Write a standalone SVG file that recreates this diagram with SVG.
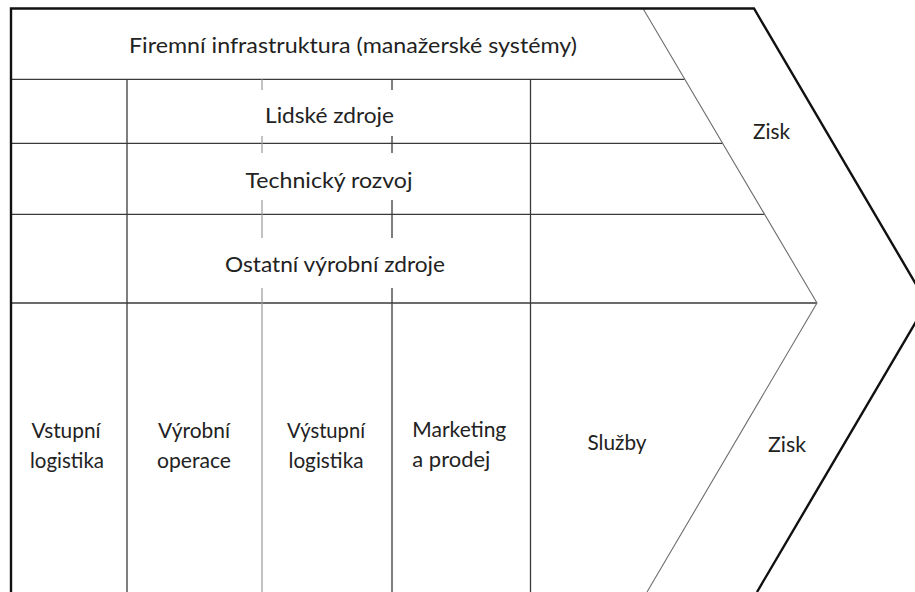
<svg xmlns="http://www.w3.org/2000/svg" width="915" height="592" viewBox="0 0 915 592">
  <style>
    .bg { fill: #ffffff; }
    .outer { fill: none; stroke: #111111; stroke-width: 2.4; stroke-linejoin: miter; }
    .grid { stroke: #3a3a3a; stroke-width: 1.3; fill: none; }
    .grid-light { stroke: #9a9a9a; stroke-width: 1.2; fill: none; }
    .tip { stroke: #6e6e6e; stroke-width: 1.1; fill: none; }
    text { font-family: Lato, "Open Sans", "Liberation Sans", sans-serif; font-size: 22px; fill: #222222; }
    .c { text-anchor: middle; }
  </style>

  <rect class="bg" x="0" y="0" width="915" height="592"/>

  <!-- grid lines of the value chain -->
  <g id="grid">
    <!-- row separators, ending at the inner chevron -->
    <line class="grid" x1="11" y1="79.3" x2="684.7" y2="79.3"/>
    <line class="grid" x1="11" y1="143.3" x2="722.5" y2="143.3"/>
    <line class="grid" x1="11" y1="214.3" x2="764.4" y2="214.3"/>
    <line class="grid" x1="11" y1="303" x2="817" y2="303"/>

    <!-- column separators -->
    <line class="grid" x1="127" y1="79.3" x2="127" y2="592"/>
    <line class="grid" x1="530.5" y1="79.3" x2="530.5" y2="592"/>

    <!-- broken column lines behind the support activity labels -->
    <path class="grid-light" d="M262 79.3V90 M262 136V153 M262 200V238 M262 288V592"/>
    <path class="grid" d="M392 79.3V90 M392 136V153 M392 200V238 M392 288V592"/>

    <!-- inner chevron (margin boundary) -->
    <polyline class="tip" points="643,8.5 817,303 647,592"/>

    <!-- outer frame with arrow head -->
    <polyline class="outer" points="11,592 11,8.5 754,8.5 927,303 757,592"/>
  </g>

  <!-- support activities -->
  <g id="infrastruktura">
    <text class="c" x="353" y="53" textLength="448" lengthAdjust="spacingAndGlyphs">Firemní infrastruktura (manažerské systémy)</text>
  </g>
  <g id="lidske-zdroje">
    <text class="c" x="329.5" y="122.7" textLength="129" lengthAdjust="spacingAndGlyphs">Lidské zdroje</text>
  </g>
  <g id="technicky-rozvoj">
    <text class="c" x="329" y="187.5" textLength="167" lengthAdjust="spacingAndGlyphs">Technický rozvoj</text>
  </g>
  <g id="ostatni-zdroje">
    <text class="c" x="335" y="271.7" textLength="220" lengthAdjust="spacingAndGlyphs">Ostatní výrobní zdroje</text>
  </g>

  <!-- primary activities -->
  <g id="vstupni-logistika">
    <text class="c" x="66" y="438" textLength="69" lengthAdjust="spacingAndGlyphs">Vstupní</text>
    <text class="c" x="67" y="468" textLength="74" lengthAdjust="spacingAndGlyphs">logistika</text>
  </g>
  <g id="vyrobni-operace">
    <text class="c" x="194" y="438" textLength="72" lengthAdjust="spacingAndGlyphs">Výrobní</text>
    <text class="c" x="194" y="468" textLength="74" lengthAdjust="spacingAndGlyphs">operace</text>
  </g>
  <g id="vystupni-logistika">
    <text class="c" x="326" y="438" textLength="78" lengthAdjust="spacingAndGlyphs">Výstupní</text>
    <text class="c" x="326" y="468" textLength="75" lengthAdjust="spacingAndGlyphs">logistika</text>
  </g>
  <g id="marketing-prodej">
    <text x="412.3" y="437.3" textLength="94" lengthAdjust="spacingAndGlyphs">Marketing</text>
    <text x="412.3" y="466.7" textLength="78" lengthAdjust="spacingAndGlyphs">a prodej</text>
  </g>
  <g id="sluzby">
    <text class="c" x="617" y="450" textLength="59" lengthAdjust="spacingAndGlyphs">Služby</text>
  </g>

  <!-- margin -->
  <g id="zisk-horni">
    <text class="c" x="771.5" y="139" textLength="37" lengthAdjust="spacingAndGlyphs">Zisk</text>
  </g>
  <g id="zisk-dolni">
    <text class="c" x="787" y="452.3" textLength="38" lengthAdjust="spacingAndGlyphs">Zisk</text>
  </g>
</svg>
